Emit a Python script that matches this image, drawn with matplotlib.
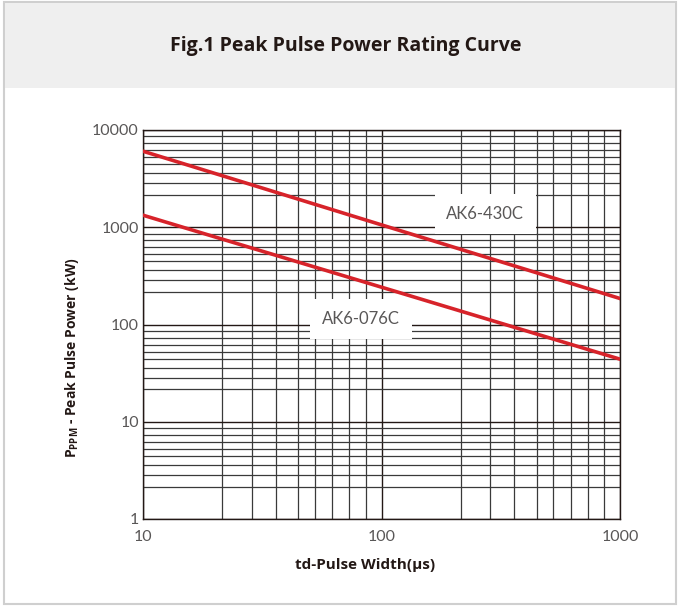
import matplotlib.pyplot as plt
from matplotlib.patches import Rectangle

# pulse width (us) and peak pulse power (kW)
pulse_width = [10, 1000]
power_430c = [6050, 185]
power_076c = [1330, 44]

x_ticks = [10, 100, 1000]
y_ticks = [1, 10, 100, 1000, 10000]

# the printed grid is not a true log grid: minor lines sit at these
# fractions of each decade (same on both axes)
minor_frac = [0.333, 0.455, 0.557, 0.650, 0.721, 0.793, 0.865, 0.935]

fig = plt.figure(figsize=(6.78, 6.06), dpi=100)

# frame and header band (behind the axes)
fig.patches.append(Rectangle((4 / 678, 1 - 604 / 606), 672 / 678, 602 / 606,
                             transform=fig.transFigure, facecolor='white',
                             edgecolor='#cfcfcf', lw=1.5, zorder=-2))
fig.patches.append(Rectangle((5 / 678, 1 - 88 / 606), 670 / 678, 85 / 606,
                             transform=fig.transFigure, facecolor='#efefef',
                             edgecolor='none', zorder=-1))
fig.text(346 / 678, 1 - 46 / 606, 'Fig.1 Peak Pulse Power Rating Curve',
         ha='center', va='center', fontsize=14, fontweight='bold',
         family='Open Sans', color='#231815')

ax = fig.add_axes([143 / 678, 1 - 519 / 606, 477 / 678, 389 / 606])
ax.set_xscale('log')
ax.set_yscale('log')
ax.set_xlim(10, 1000)
ax.set_ylim(1, 10000)

x_minor = [10 ** (d + f) for d in (1, 2) for f in minor_frac]
y_minor = [10 ** (d + f) for d in (0, 1, 2, 3) for f in minor_frac]

ax.set_xticks(x_ticks)
ax.set_xticklabels([str(v) for v in x_ticks])
ax.set_xticks(x_minor, minor=True)
ax.set_xticklabels([], minor=True)
ax.set_yticks(y_ticks)
ax.set_yticklabels([str(v) for v in y_ticks])
ax.set_yticks(y_minor, minor=True)
ax.set_yticklabels([], minor=True)

ax.grid(which='major', color='#231815', lw=1.0)
ax.grid(which='minor', color='#3a3a3a', lw=0.9)
ax.set_axisbelow(True)
for s in ax.spines.values():
    s.set_color('#231815')
    s.set_linewidth(1.0)

ax.plot(pulse_width, power_430c, color='#d7232a', lw=2.6, zorder=3)
ax.plot(pulse_width, power_076c, color='#d7232a', lw=2.6, zorder=3)

box = dict(boxstyle='square,pad=0.7', facecolor='white', edgecolor='none')
ax.text(272, 1368, 'AK6-430C', ha='center', va='center', fontsize=12,
        family='Lato', color='#595757', bbox=box, zorder=4)
ax.text(82, 114, 'AK6-076C', ha='center', va='center', fontsize=12,
        family='Lato', color='#595757', bbox=box, zorder=4)

ax.tick_params(which='both', length=0)
ax.tick_params(axis='x', pad=8, labelsize=11.5, labelcolor='#595757')
ax.tick_params(axis='y', pad=3, labelsize=11.5, labelcolor='#595757')
for lab in ax.get_xticklabels() + ax.get_yticklabels():
    lab.set_family('Lato')

ax.set_xlabel('td-Pulse Width(μs)', fontsize=11, fontweight='bold',
              family='Open Sans', color='#231815')
ax.xaxis.set_label_coords(0.465, -0.101)
ax.set_ylabel(r'P$_{\mathregular{PPM}}$ - Peak Pulse Power (kW)', fontsize=10,
              fontweight='bold', family='Open Sans', color='#231815')
ax.yaxis.set_label_coords(-0.130, 0.415)

fig.savefig('out.png', dpi=100)
